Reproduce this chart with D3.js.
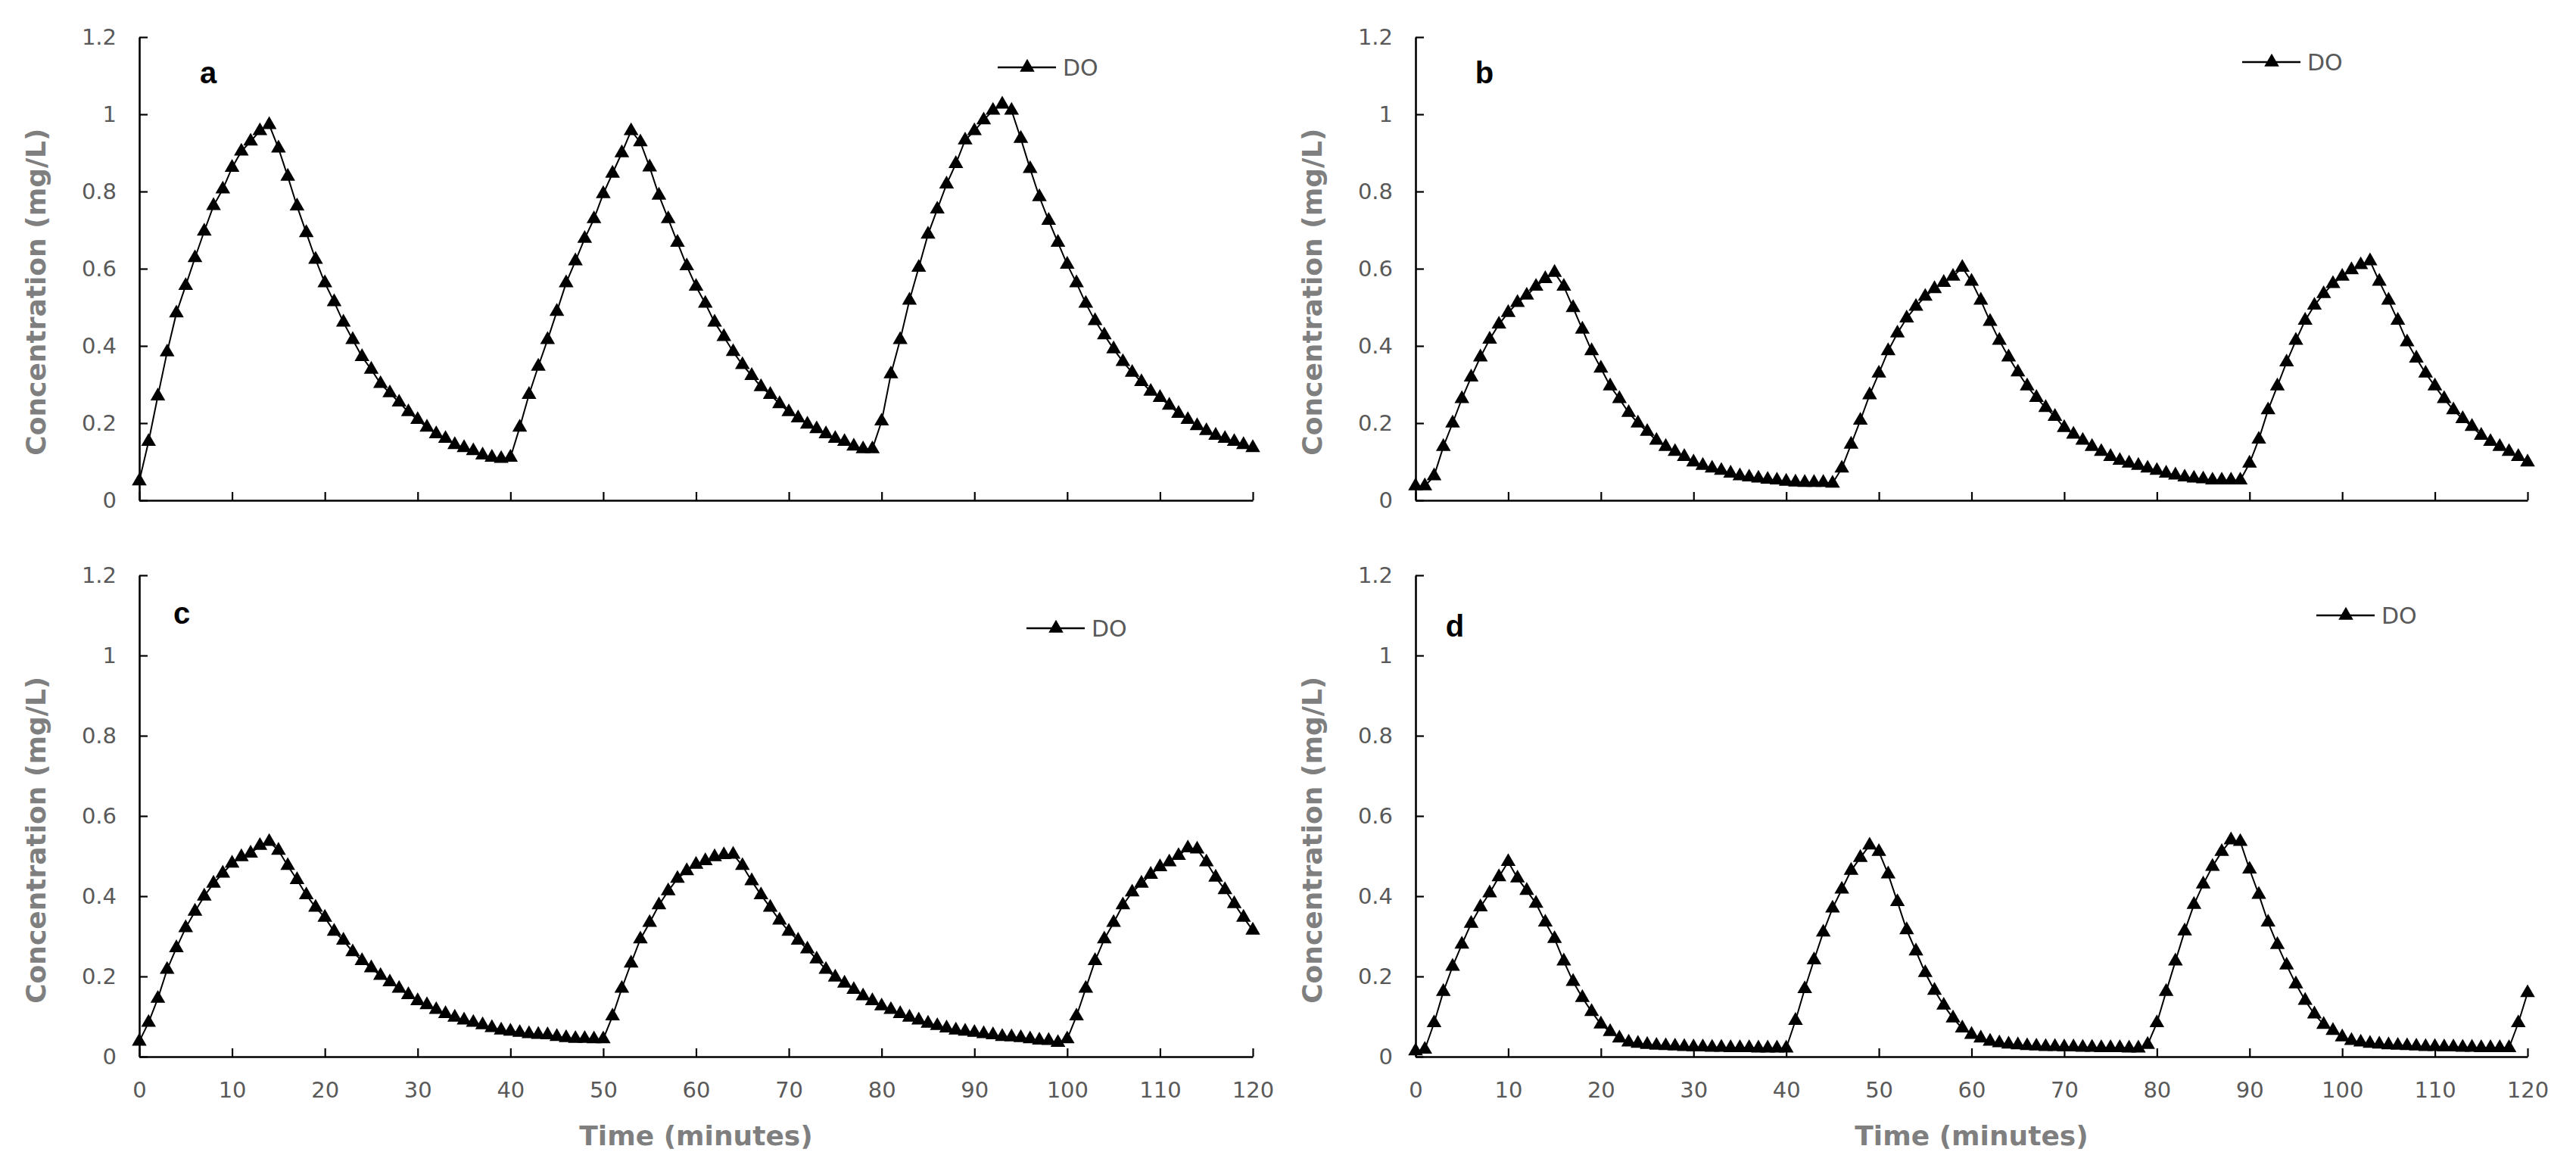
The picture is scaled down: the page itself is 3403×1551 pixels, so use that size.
<!DOCTYPE html>
<html>
<head>
<meta charset="utf-8">
<script src="https://cdn.jsdelivr.net/npm/d3@7"></script>
<style>
  html, body { margin: 0; padding: 0; background: #fff; }
  svg { display: block; }
</style>
</head>
<body>
<div id="chart"></div>
<script>
// DO concentration (mg/L), one reading per minute, t = 0..120
const doA = [
  0.05, 0.152, 0.27, 0.384, 0.485, 0.556, 0.628, 0.697, 0.763, 0.806,
  0.862, 0.904, 0.93, 0.957, 0.973, 0.912, 0.839, 0.762, 0.693, 0.624,
  0.563, 0.514, 0.461, 0.416, 0.372, 0.339, 0.302, 0.278, 0.254, 0.229,
  0.209, 0.189, 0.172, 0.16, 0.144, 0.136, 0.128, 0.117, 0.111, 0.108,
  0.111, 0.189, 0.274, 0.347, 0.416, 0.489, 0.563, 0.62, 0.678, 0.729,
  0.794, 0.847, 0.9, 0.957, 0.928, 0.863, 0.79, 0.729, 0.668, 0.607,
  0.554, 0.51, 0.461, 0.424, 0.385, 0.351, 0.323, 0.294, 0.274, 0.25,
  0.229, 0.213, 0.197, 0.185, 0.172, 0.16, 0.152, 0.14, 0.133, 0.133,
  0.205, 0.327, 0.416, 0.518, 0.603, 0.689, 0.754, 0.819, 0.872, 0.933,
  0.957, 0.985, 1.01, 1.026, 1.01, 0.937, 0.859, 0.786, 0.725, 0.668,
  0.611, 0.563, 0.51, 0.465, 0.428, 0.392, 0.359, 0.331, 0.307, 0.282,
  0.266, 0.246, 0.225, 0.209, 0.193, 0.18, 0.168, 0.16, 0.152, 0.144,
  0.136
];

const doB = [
  0.037, 0.037, 0.063, 0.139, 0.2, 0.263, 0.319, 0.371, 0.417, 0.456,
  0.486, 0.512, 0.531, 0.554, 0.574, 0.59, 0.554, 0.499, 0.443, 0.387,
  0.342, 0.296, 0.263, 0.227, 0.2, 0.178, 0.155, 0.139, 0.126, 0.113,
  0.099, 0.09, 0.083, 0.077, 0.07, 0.063, 0.06, 0.057, 0.054, 0.052,
  0.049, 0.047, 0.046, 0.046, 0.046, 0.044, 0.083, 0.145, 0.207, 0.273,
  0.329, 0.387, 0.433, 0.472, 0.502, 0.528, 0.548, 0.564, 0.58, 0.603,
  0.567, 0.518, 0.463, 0.414, 0.371, 0.332, 0.296, 0.266, 0.24, 0.217,
  0.188, 0.171, 0.155, 0.139, 0.126, 0.113, 0.103, 0.096, 0.09, 0.083,
  0.077, 0.07, 0.065, 0.06, 0.057, 0.055, 0.052, 0.052, 0.052, 0.052,
  0.096, 0.158, 0.234, 0.296, 0.358, 0.414, 0.466, 0.505, 0.535, 0.561,
  0.58, 0.597, 0.61, 0.62, 0.567, 0.518, 0.466, 0.41, 0.368, 0.329,
  0.296, 0.263, 0.234, 0.211, 0.191, 0.168, 0.152, 0.139, 0.126, 0.113,
  0.099
];

const doC = [
  0.038, 0.085, 0.145, 0.217, 0.271, 0.321, 0.362, 0.4, 0.432, 0.457,
  0.482, 0.498, 0.507, 0.526, 0.536, 0.514, 0.476, 0.441, 0.403, 0.372,
  0.347, 0.312, 0.29, 0.261, 0.239, 0.221, 0.202, 0.186, 0.17, 0.154,
  0.139, 0.129, 0.117, 0.107, 0.098, 0.091, 0.085, 0.079, 0.072, 0.066,
  0.063, 0.06, 0.057, 0.055, 0.054, 0.05, 0.047, 0.045, 0.045, 0.044,
  0.044, 0.101, 0.17, 0.233, 0.293, 0.334, 0.378, 0.413, 0.444, 0.463,
  0.479, 0.488, 0.498, 0.503, 0.504, 0.476, 0.438, 0.403, 0.372, 0.34,
  0.312, 0.29, 0.268, 0.243, 0.217, 0.198, 0.183, 0.167, 0.151, 0.139,
  0.126, 0.117, 0.107, 0.098, 0.091, 0.083, 0.077, 0.071, 0.066, 0.063,
  0.06, 0.057, 0.054, 0.05, 0.049, 0.047, 0.044, 0.041, 0.04, 0.035,
  0.044, 0.101, 0.17, 0.239, 0.293, 0.334, 0.378, 0.41, 0.432, 0.454,
  0.473, 0.485, 0.501, 0.52, 0.517, 0.485, 0.447, 0.416, 0.381, 0.347,
  0.315
];

const doD = [
  0.014, 0.018, 0.084, 0.162, 0.225, 0.28, 0.332, 0.373, 0.408, 0.448,
  0.486, 0.445, 0.414, 0.382, 0.335, 0.294, 0.238, 0.187, 0.147, 0.112,
  0.081, 0.062, 0.046, 0.036, 0.033, 0.03, 0.028, 0.027, 0.026, 0.025,
  0.024, 0.024, 0.023, 0.023, 0.022, 0.022, 0.022, 0.021, 0.021, 0.021,
  0.021, 0.09, 0.169, 0.241, 0.31, 0.37, 0.417, 0.464, 0.496, 0.527,
  0.511, 0.455, 0.386, 0.316, 0.263, 0.209, 0.165, 0.128, 0.096, 0.071,
  0.055, 0.046, 0.038, 0.034, 0.031, 0.029, 0.027, 0.026, 0.025, 0.025,
  0.024, 0.024, 0.023, 0.023, 0.022, 0.022, 0.022, 0.021, 0.021, 0.03,
  0.084, 0.162, 0.238, 0.313, 0.379, 0.43, 0.474, 0.511, 0.54, 0.536,
  0.467, 0.404, 0.335, 0.279, 0.228, 0.181, 0.14, 0.106, 0.08, 0.065,
  0.049, 0.04, 0.036, 0.033, 0.031, 0.029, 0.028, 0.027, 0.026, 0.025,
  0.025, 0.024, 0.024, 0.023, 0.023, 0.022, 0.022, 0.022, 0.022, 0.084,
  0.159
];

const xTicks = [0, 10, 20, 30, 40, 50, 60, 70, 80, 90, 100, 110, 120];
const yTicks = [0, 0.2, 0.4, 0.6, 0.8, 1, 1.2];
const yTickLabels = ["0", "0.2", "0.4", "0.6", "0.8", "1", "1.2"];
const panelNames = ["a", "b", "c", "d"];
const seriesName = "DO";
const yTitle = "Concentration (mg/L)";
const xTitle = "Time (minutes)";

const width = 3403, height = 1551;

// layout of the four plots (pixel boxes)
const panels = [
  { name: panelNames[0], data: doA, x0: 184, x1: 1655, top: 49, bottom: 661,
    letter: [91, 47], legend: [1134, 40], xLabels: false },
  { name: panelNames[1], data: doB, x0: 1870, x1: 3339, top: 49, bottom: 661,
    letter: [91, 47], legend: [1092, 33], xLabels: false },
  { name: panelNames[2], data: doC, x0: 184, x1: 1655, top: 760, bottom: 1396,
    letter: [56, 50], legend: [1172, 70], xLabels: true },
  { name: panelNames[3], data: doD, x0: 1870, x1: 3339, top: 760, bottom: 1396,
    letter: [52, 67], legend: [1190, 53], xLabels: true }
];

const tickFont = "'DejaVu Sans', sans-serif";
const tickColor = "#595959";
const titleColor = "#7f7f7f";

const svg = d3.select("#chart")
  .append("svg")
  .attr("width", width)
  .attr("height", height)
  .attr("viewBox", `0 0 ${width} ${height}`);

svg.append("rect").attr("width", width).attr("height", height).attr("fill", "#fff");

const tri = d3.symbol(d3.symbolTriangle, 165);

panels.forEach(p => {
  const x = d3.scaleLinear().domain([0, 120]).range([p.x0, p.x1]);
  const y = d3.scaleLinear().domain([0, 1.2]).range([p.bottom, p.top]);
  const g = svg.append("g");

  // x axis, ticks pointing inwards
  const xAxis = d3.axisBottom(x)
    .tickValues(xTicks)
    .tickSize(-11)
    .tickSizeOuter(0)
    .tickPadding(33)
    .tickFormat(p.xLabels ? d3.format("d") : "");
  const gx = g.append("g")
    .attr("transform", `translate(0,${p.bottom})`)
    .call(xAxis);

  // y axis
  const yAxis = d3.axisLeft(y)
    .tickValues(yTicks)
    .tickSize(-11)
    .tickSizeOuter(0)
    .tickPadding(30)
    .tickFormat((d, i) => yTickLabels[i]);
  const gy = g.append("g")
    .attr("transform", `translate(${p.x0},0)`)
    .call(yAxis);

  [gx, gy].forEach(a => {
    a.attr("font-family", tickFont).attr("font-size", 29);
    a.select(".domain").attr("stroke", "#000").attr("stroke-width", 2.6);
    a.selectAll(".tick line").attr("stroke", "#000").attr("stroke-width", 2.2);
    a.selectAll(".tick text").attr("fill", tickColor);
  });

  // series line and markers
  const line = d3.line()
    .x((d, i) => x(i))
    .y(d => y(d));

  g.append("path")
    .datum(p.data)
    .attr("fill", "none")
    .attr("stroke", "#000")
    .attr("stroke-width", 2)
    .attr("d", line);

  g.append("g")
    .selectAll("path")
    .data(p.data)
    .join("path")
    .attr("transform", (d, i) => `translate(${x(i)},${y(d)})`)
    .attr("d", tri)
    .attr("fill", "#000");

  // panel letter
  g.append("text")
    .attr("x", p.x0 + p.letter[0])
    .attr("y", p.top + p.letter[1])
    .attr("dy", "0.36em")
    .attr("text-anchor", "middle")
    .attr("font-family", "'Liberation Sans', Arial, sans-serif")
    .attr("font-weight", "bold")
    .attr("font-size", 40)
    .attr("fill", "#000")
    .text(p.name);

  // legend
  const lx = p.x0 + p.legend[0], ly = p.top + p.legend[1];
  const lg = g.append("g");
  lg.append("line")
    .attr("x1", lx).attr("x2", lx + 77)
    .attr("y1", ly).attr("y2", ly)
    .attr("stroke", "#000").attr("stroke-width", 2.6);
  lg.append("path")
    .attr("transform", `translate(${lx + 39},${ly})`)
    .attr("d", tri)
    .attr("fill", "#000");
  lg.append("text")
    .attr("x", lx + 86)
    .attr("y", ly)
    .attr("dy", "0.36em")
    .attr("font-family", tickFont)
    .attr("font-size", 30)
    .attr("fill", tickColor)
    .text(seriesName);

  // y title
  const ty = p.bottom - (p.bottom - p.top) * 0.45;
  g.append("text")
    .attr("transform", `translate(${p.x0 - 137},${ty}) rotate(-90)`)
    .attr("dy", "0.36em")
    .attr("text-anchor", "middle")
    .attr("font-family", "'DejaVu Sans', Verdana, sans-serif")
    .attr("font-weight", "bold")
    .attr("font-size", 36)
    .attr("fill", titleColor)
    .text(yTitle);

  // x title, bottom row only
  if (p.xLabels) {
    g.append("text")
      .attr("x", (p.x0 + p.x1) / 2)
      .attr("y", p.bottom + 104)
      .attr("dy", "0.36em")
      .attr("text-anchor", "middle")
      .attr("font-family", "'DejaVu Sans', sans-serif")
      .attr("font-weight", "bold")
      .attr("font-size", 36)
      .attr("fill", titleColor)
      .text(xTitle);
  }
});
</script>
</body>
</html>
